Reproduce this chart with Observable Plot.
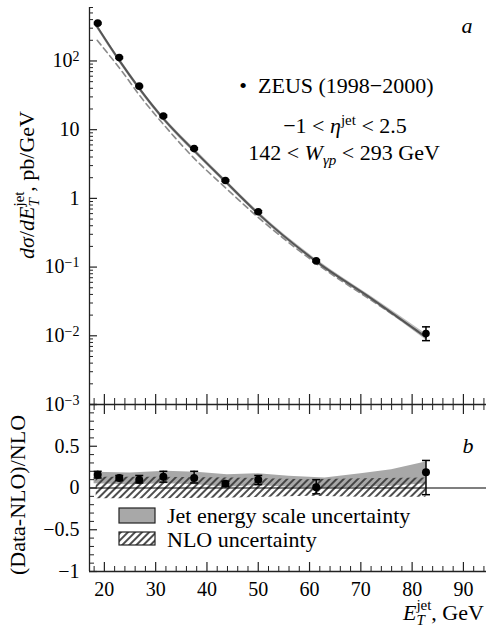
<!DOCTYPE html>
<html><head><meta charset="utf-8">
<script src="https://cdn.jsdelivr.net/npm/d3@7"></script>
<script src="https://cdn.jsdelivr.net/npm/@observablehq/plot@0.6"></script>
<style>
body{margin:0;background:#fff}
#wrap{position:relative;width:486px;height:629px;overflow:hidden}
#wrap svg{position:absolute;left:0}
</style>
</head><body><div id="wrap"></div>
<script>
// ---------- data ----------
const xDomain = [17.1, 94.5];
const dataE = [18.7, 22.9, 26.8, 31.5, 37.5, 43.6, 50.0, 61.3, 82.7];
const dataXsec = [355, 112, 43, 15.8, 5.3, 1.82, 0.64, 0.123, 0.0108];
const dataXsecLo = [345, 109, 42, 15.3, 5.15, 1.77, 0.62, 0.119, 0.0085];
const dataXsecHi = [365, 115, 44, 16.3, 5.45, 1.87, 0.66, 0.127, 0.0135];
const nloE = [18.2, 22.9, 26.8, 31.5, 37.5, 43.6, 50.0, 61.3, 72.0, 82.7];
const nloXsec = [350, 102, 40, 14.5, 4.95, 1.76, 0.6, 0.121, 0.035, 0.0095];
const nloBandLo = [325, 95, 37.2, 13.5, 4.6, 1.64, 0.56, 0.114, 0.0328, 0.0087];
const nloBandHi = [380, 110, 43, 15.6, 5.35, 1.89, 0.645, 0.130, 0.0375, 0.0106];
const dashE = [18.6, 23.4, 27.3, 31.8, 37.7, 42.9, 50.1, 61.3, 72.0, 82.7];
const dashXsec = [200, 71, 28.6, 11.3, 3.7, 1.6, 0.52, 0.113, 0.033, 0.0098];

const ratio = [0.16, 0.12, 0.10, 0.135, 0.12, 0.05, 0.10, 0.01, 0.19];
const ratioLo = [0.12, 0.09, 0.06, 0.07, 0.06, 0.02, 0.04, -0.07, -0.08];
const ratioHi = [0.20, 0.15, 0.15, 0.20, 0.20, 0.08, 0.15, 0.10, 0.33];
const jesE = [18, 25, 32, 38, 44, 50, 56, 63, 70, 76, 82.7];
const jesHi = [0.19, 0.18, 0.20, 0.19, 0.16, 0.17, 0.14, 0.12, 0.17, 0.22, 0.31];
const jesLo = [0.05, 0.04, 0.05, 0.04, 0.01, 0.03, 0.01, 0.0, 0.01, 0.02, 0.05];
const nloUncE = [18.4, 30, 45, 60, 70, 82.7];
const nloUncHi = [0.13, 0.13, 0.12, 0.10, 0.11, 0.12];
const nloUncLo = [-0.13, -0.13, -0.12, -0.10, -0.11, -0.11];

const topTicks = [0.001, 0.01, 0.1, 1, 10, 100];
const topTickLabels = ["10^\u22123", "10^\u22122", "10^\u22121", "1", "10", "10^2"];
const botTicks = [-1, -0.5, 0, 0.5];
const botTickLabels = ["\u22121", "\u22120.5", "0", "0.5"];
const xTicks = [20, 30, 40, 50, 60, 70, 80, 90];
const xTickLabels = ["20", "30", "40", "50", "60", "70", "80", "90"];

// ---------- layout ----------
const FONT = "'Liberation Serif', 'Times New Roman', serif";
const W = 486, ML = 89, MR = 0;
const innerW = W - ML - MR;
const topH = 405, topMT = 7, topMB = 1;
const botTop = 390, botH = 239, botMT = 14, botMB = 58;
const botInnerH = botH - botMT - botMB;

const topMinor = [];
for (let k = -3; k <= 2; k++) for (let m = 2; m <= 9; m++) { const v = m * Math.pow(10, k); if (v <= 600) topMinor.push(v); }
const xMinor = d3.range(18, 95, 2).filter(v => v % 10 !== 0);
const botMinor = d3.range(-10, 11).map(v => v / 10).filter(v => Math.abs(v * 2 - Math.round(v * 2)) > 1e-9);
const botMajor = [-1, -0.5, 0, 0.5, 1];

const capSym = {draw(ctx, size) { const w = Math.sqrt(size / Math.PI); ctx.moveTo(-w, 0); ctx.lineTo(w, 0); }};

const dataRows = dataE.map((e, i) => ({e, v: dataXsec[i], lo: dataXsecLo[i], hi: dataXsecHi[i]}));
const nloRows = nloE.map((e, i) => ({e, v: nloXsec[i], lo: nloBandLo[i], hi: nloBandHi[i]}));
const dashRows = dashE.map((e, i) => ({e, v: dashXsec[i]}));
const ratioRows = dataE.map((e, i) => ({e, v: ratio[i], lo: ratioLo[i], hi: ratioHi[i]}));
const jesRows = jesE.map((e, i) => ({e, lo: jesLo[i], hi: jesHi[i]}));
const uncRows = nloUncE.map((e, i) => ({e, lo: nloUncLo[i], hi: nloUncHi[i]}));

const style = {fontFamily: FONT, fontSize: "20px", background: "transparent", overflow: "visible", color: "black"};
const AX = "#222";

// ---------- top panel ----------
const topPlot = Plot.plot({
  width: W, height: topH, marginLeft: ML, marginRight: MR, marginTop: topMT, marginBottom: topMB,
  x: {domain: xDomain, axis: null, label: null},
  y: {type: "log", domain: [0.001, 600], axis: null, label: null},
  style,
  marks: [
    Plot.areaY(nloRows, {x: "e", y1: "lo", y2: "hi", fill: "#bdbdbd", curve: "monotone-x"}),
    Plot.line(dashRows, {x: "e", y: "v", stroke: "#8a8a8a", strokeWidth: 1.6, strokeDasharray: "6,4", curve: "monotone-x"}),
    Plot.line(nloRows, {x: "e", y: "v", stroke: "#555", strokeWidth: 2, curve: "monotone-x"}),
    Plot.ruleX(dataRows, {x: "e", y1: "lo", y2: "hi", stroke: "black", strokeWidth: 1.5}),
    Plot.dot(dataRows, {x: "e", y: "lo", symbol: capSym, r: 4, stroke: "black", fill: "none", strokeWidth: 1.5}),
    Plot.dot(dataRows, {x: "e", y: "hi", symbol: capSym, r: 4, stroke: "black", fill: "none", strokeWidth: 1.5}),
    Plot.dot(dataRows, {x: "e", y: "v", r: 3.8, fill: "black"}),
    Plot.ruleX([xDomain[0]], {stroke: AX, strokeWidth: 1.3}),
    Plot.tickY(topTicks, {y: d => d, insetRight: innerW - 8, stroke: AX, strokeWidth: 1.2}),
    Plot.tickY(topMinor, {y: d => d, insetRight: innerW - 4, stroke: AX, strokeWidth: 1}),
    Plot.axisY(topTicks, {tickSize: 0, tickPadding: 10, label: null, tickFormat: d => topTickLabels[topTicks.indexOf(d)], fontSize: 20})
  ]
});

// ---------- bottom panel ----------
const botPlot = Plot.plot({
  width: W, height: botH, marginLeft: ML, marginRight: MR, marginTop: botMT, marginBottom: botMB,
  x: {domain: xDomain, axis: null, label: null},
  y: {domain: [-1, 1], axis: null, label: null},
  style,
  marks: [
    Plot.areaY(jesRows, {x: "e", y1: "lo", y2: "hi", fill: "#a8a8a8"}),
    Plot.areaY(uncRows, {x: "e", y1: "lo", y2: "hi", fill: "url(#hatch)"}),
    Plot.ruleY([0], {stroke: "black", strokeWidth: 1.2}),
    Plot.ruleX([xDomain[0]], {stroke: AX, strokeWidth: 1.3}),
    Plot.ruleY([-1, 1], {stroke: AX, strokeWidth: 1.3}),
    Plot.tickY(botMajor, {y: d => d, insetRight: innerW - 8, stroke: AX, strokeWidth: 1.2}),
    Plot.tickY(botMinor, {y: d => d, insetRight: innerW - 5, stroke: AX, strokeWidth: 1}),
    Plot.tickX(xTicks, {x: d => d, insetTop: botInnerH - 9, stroke: AX, strokeWidth: 1.2}),
    Plot.tickX(xMinor, {x: d => d, insetTop: botInnerH - 5, stroke: AX, strokeWidth: 1}),
    Plot.tickX(xTicks, {x: d => d, insetTop: -10, insetBottom: botInnerH - 10, stroke: AX, strokeWidth: 1.2}),
    Plot.tickX(xMinor, {x: d => d, insetTop: -6, insetBottom: botInnerH - 6, stroke: AX, strokeWidth: 1}),
    Plot.ruleX(ratioRows, {x: "e", y1: "lo", y2: "hi", stroke: "black", strokeWidth: 1.5}),
    Plot.dot(ratioRows, {x: "e", y: "lo", symbol: capSym, r: 4, stroke: "black", fill: "none", strokeWidth: 1.5}),
    Plot.dot(ratioRows, {x: "e", y: "hi", symbol: capSym, r: 4, stroke: "black", fill: "none", strokeWidth: 1.5}),
    Plot.dot(ratioRows, {x: "e", y: "v", r: 4, fill: "black"}),
    Plot.axisY(botTicks, {tickSize: 0, tickPadding: 10, label: null, tickFormat: d => botTickLabels[botTicks.indexOf(d)], fontSize: 20}),
    Plot.axisX(xTicks, {anchor: "bottom", tickSize: 0, tickPadding: 10, label: null, tickFormat: d => xTickLabels[xTicks.indexOf(d)], fontSize: 20})
  ]
});

const wrap = document.getElementById("wrap");
topPlot.style.top = "0px";
botPlot.style.top = botTop + "px";
wrap.appendChild(topPlot);
wrap.appendChild(botPlot);

// hatch pattern
d3.select(botPlot).insert("defs", ":first-child").html(
  '<pattern id="hatch" width="5" height="5" patternUnits="userSpaceOnUse" patternTransform="rotate(45)">' +
  '<line x1="1" y1="0" x2="1" y2="5" stroke="#3a3a3a" stroke-width="1.8"/></pattern>');

// superscripts in tick labels
d3.select(topPlot).selectAll('g[aria-label="y-axis tick label"] text').each(function () {
  const t = this.textContent, parts = t.split("^");
  if (parts.length === 2) {
    const s = d3.select(this); s.text(parts[0]);
    s.append("tspan").attr("dy", "-0.45em").attr("font-size", "14px").text(parts[1]);
  }
});

function rich(svg, x, y, parts, opts = {}) {
  const t = d3.select(svg).append("text")
    .attr("font-family", FONT).attr("font-size", opts.size || 22)
    .attr("text-anchor", opts.anchor || "start").attr("fill", "black");
  if (opts.rotate) t.attr("transform", `translate(${x},${y}) rotate(${opts.rotate})`);
  else t.attr("x", x).attr("y", y);
  for (const p of parts) {
    const s = t.append("tspan").text(p.t);
    if (p.i) s.attr("font-style", "italic");
    if (p.dy !== undefined) s.attr("dy", p.dy);
    if (p.dx !== undefined) s.attr("dx", p.dx);
    if (p.fs) s.attr("font-size", p.fs);
  }
  return t;
}

// top annotations
rich(topPlot, 467, 33, [{t: "a", i: true}], {anchor: "middle"});
rich(topPlot, 243, 93, [{t: "\u2022"}], {anchor: "middle"});
rich(topPlot, 258, 93, [{t: "ZEUS (1998\u22122000)"}]);
rich(topPlot, 345, 133, [{t: "\u22121 < "}, {t: "\u03b7", i: true}, {t: "jet", fs: 15, dy: -8}, {t: " < 2.5", dy: 8}], {anchor: "middle"});
rich(topPlot, 344, 160, [{t: "142 < "}, {t: "W", i: true}, {t: "\u03b3p", i: true, fs: 15, dy: 5}, {t: " < 293 GeV", dy: -5}], {anchor: "middle"});
// top y label
rich(topPlot, 34, 185, [
  {t: "d\u03c3", i: true}, {t: "/"}, {t: "dE", i: true},
  {t: "jet", fs: 15, dy: -10}, {t: "T", i: true, fs: 15, dx: -15, dy: 15}, {t: ", pb/GeV", dx: 6.5, dy: -5}
], {anchor: "middle", rotate: -90});

// bottom annotations
const by = v => v - botTop;
rich(botPlot, 468, by(453), [{t: "b", i: true}], {anchor: "middle"});
rich(botPlot, 25, by(495), [{t: "(Data-NLO)/NLO"}], {anchor: "middle", rotate: -90});
rich(botPlot, 403, by(620), [
  {t: "E", i: true}, {t: "jet", fs: 15, dy: -10}, {t: "T", i: true, fs: 15, dx: -15, dy: 15}, {t: ", GeV", dx: 6.5, dy: -5}
]);
// legend
const lg = d3.select(botPlot).append("g");
lg.append("rect").attr("x", 119).attr("y", by(508)).attr("width", 36).attr("height", 15)
  .attr("fill", "#a8a8a8").attr("stroke", "#222").attr("stroke-width", 1.2);
lg.append("rect").attr("x", 119).attr("y", by(532)).attr("width", 36).attr("height", 13)
  .attr("fill", "url(#hatch)").attr("stroke", "#222").attr("stroke-width", 1.2);
rich(botPlot, 167, by(523), [{t: "Jet energy scale uncertainty"}]);
rich(botPlot, 167, by(547), [{t: "NLO uncertainty"}]);
</script></body></html>
